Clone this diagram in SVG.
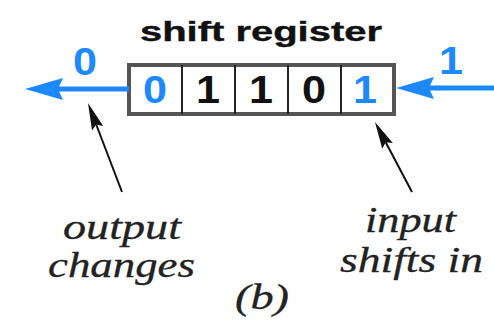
<svg xmlns="http://www.w3.org/2000/svg" width="494" height="320" viewBox="0 0 494 320">
<style>
.title{font-family:"Liberation Sans",Arial,sans-serif;font-weight:bold;font-size:28px;fill:#111;stroke:#111;stroke-width:0.4}
.dig{font-family:"Liberation Sans",Arial,sans-serif;font-weight:bold;font-size:38px}
.blk{fill:#111}
.blu{fill:#1E88FF}
.it{font-family:"Liberation Serif","Times New Roman",serif;font-style:italic;font-size:35px;fill:#222;stroke:#222;stroke-width:0.3}
.bl{stroke:#1E88FF;stroke-width:5;fill:none}
.kl{stroke:#111;stroke-width:2;fill:none}
</style>
<defs>
<marker id="ab" markerUnits="userSpaceOnUse" markerWidth="40" markerHeight="24" refX="5" refY="11" orient="auto" overflow="visible">
<path d="M0,0 L38,11 L0,22 L5,11 Z" fill="#1E88FF"/>
</marker>
<marker id="ak" markerUnits="userSpaceOnUse" markerWidth="30" markerHeight="14" refX="4" refY="6" orient="auto" overflow="visible">
<path d="M0,0 L27,6 L0,12 L4,6 Z" fill="#111"/>
</marker>
</defs>
<rect width="494" height="320" fill="#fff"/>
<text class="title" x="140" y="41" textLength="242" lengthAdjust="spacingAndGlyphs">shift register</text>
<g id="register">
<rect x="129" y="65" width="265" height="49" fill="#fff" stroke="#555" stroke-width="4"/>
<g stroke="#222" stroke-width="2">
<line x1="182" y1="65" x2="182" y2="114"/>
<line x1="235" y1="65" x2="235" y2="114"/>
<line x1="288" y1="65" x2="288" y2="114"/>
<line x1="341" y1="65" x2="341" y2="114"/>
</g>
<text class="dig blu" x="143" y="103" textLength="24" lengthAdjust="spacingAndGlyphs">0</text>
<text class="dig blk" x="196" y="103" textLength="24" lengthAdjust="spacingAndGlyphs">1</text>
<text class="dig blk" x="249" y="103" textLength="24" lengthAdjust="spacingAndGlyphs">1</text>
<text class="dig blk" x="302" y="103" textLength="24" lengthAdjust="spacingAndGlyphs">0</text>
<text class="dig blu" x="353" y="103" textLength="24" lengthAdjust="spacingAndGlyphs">1</text>
</g>
<g id="connectors">
<line class="bl" x1="129" y1="89" x2="58" y2="89" marker-end="url(#ab)"/>
<line class="bl" x1="494" y1="88" x2="429" y2="88" marker-end="url(#ab)"/>
<line class="kl" x1="122" y1="192" x2="96.2" y2="124.5" marker-end="url(#ak)"/>
<line class="kl" x1="412" y1="192" x2="385.7" y2="142.3" marker-end="url(#ak)"/>
</g>
<g id="out-label">
<text class="dig blu" x="73" y="75" textLength="24" lengthAdjust="spacingAndGlyphs">0</text>
</g>
<g id="in-label">
<text class="dig blu" x="439" y="74" textLength="24" lengthAdjust="spacingAndGlyphs">1</text>
</g>
<g id="output-note">
<text class="it" x="63" y="239" textLength="118" lengthAdjust="spacingAndGlyphs">output</text>
<text class="it" x="48" y="277" textLength="147" lengthAdjust="spacingAndGlyphs">changes</text>
</g>
<g id="input-note">
<text class="it" x="365" y="232" textLength="91" lengthAdjust="spacingAndGlyphs">input</text>
<text class="it" x="340" y="272" textLength="143" lengthAdjust="spacingAndGlyphs">shifts in</text>
</g>
<text class="it" x="235" y="309" textLength="54" lengthAdjust="spacingAndGlyphs">(b)</text>
</svg>
